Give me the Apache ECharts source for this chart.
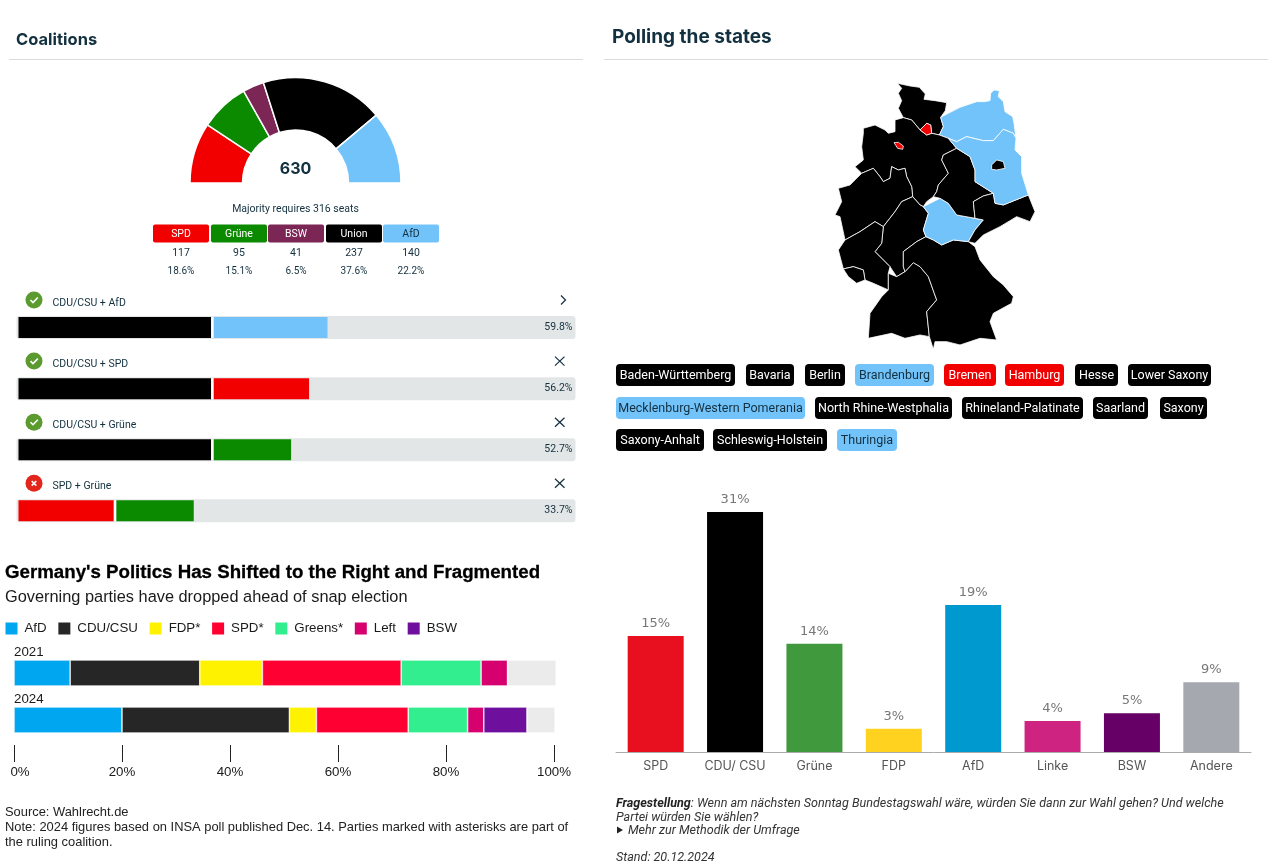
<!DOCTYPE html>
<html><head><meta charset="utf-8">
<style>html,body{margin:0;padding:0;background:#fff}#c{width:1280px;height:868px}</style>
<script src="https://cdn.jsdelivr.net/npm/echarts@6/dist/echarts.min.js"></script>
</head><body><div id="c"></div>
<script>
// ---------- DATA ----------
const seatParties = ['SPD','Grüne','BSW','Union','AfD'];
const seatValues = [117,95,41,237,140];
const seatShares = ['18.6%','15.1%','6.5%','37.6%','22.2%'];
const seatColors = ['#f20000','#0b8a00','#7b2655','#000000','#73c3fb'];

const coalitionNames = ['CDU/CSU + AfD','CDU/CSU + SPD','CDU/CSU + Grüne','SPD + Grüne'];
const coalitionFirst = [37.6,37.6,37.6,18.6];
const coalitionSecond = [22.2,18.6,15.1,15.1];
const coalitionTotals = [59.8,56.2,52.7,33.7];
const coalitionFirstColors = ['#000000','#000000','#000000','#f20000'];
const coalitionSecondColors = ['#73c3fb','#f20000','#0b8a00','#0b8a00'];
const coalitionOk = [true,true,true,false];
const coalitionScaleMax = 108.6;

const bbYears = ['2021','2024'];
const bbAfD = [10.4,20];
const bbCDU = [24,31];
const bbFDP = [11.6,5];
const bbSPD = [25.7,17];
const bbGreens = [14.8,11];
const bbLeft = [4.9,3];
const bbBSW = [0,8];
const bbOther = [9,5.2];

const pollParties = ['SPD','CDU/ CSU','Grüne','FDP','AfD','Linke','BSW','Andere'];
const pollValues = [15,31,14,3,19,4,5,9];
const pollColors = ['#e8101e','#000000','#409a3d','#ffd21f','#0099cf','#cf2382','#660066','#a5a8af'];

const stateNames = ['Baden-Württemberg','Bavaria','Berlin','Brandenburg','Bremen','Hamburg','Hesse','Lower Saxony','Mecklenburg-Western Pomerania','North Rhine-Westphalia','Rhineland-Palatinate','Saarland','Saxony','Saxony-Anhalt','Schleswig-Holstein','Thuringia'];
const stateLeaders = ['black','black','black','blue','red','red','black','black','blue','black','black','black','black','black','black','blue'];
const leaderColors = {black:'#000000',blue:'#73c3fb',red:'#f20000'};

// rough state outlines, in map units
const shapeSH = [[232,40],[270,48],[298,52],[316,72],[312,88],[345,92],[380,98],[376,122],[362,142],[370,170],[358,195],[335,190],[332,165],[320,160],[300,180],[275,150],[250,143],[235,115],[245,92],[235,70],[245,55]];
const shapeHH = [[300,180],[320,160],[332,165],[335,190],[320,195]];
const shapeHB = [[222,218],[235,217],[250,228],[248,238],[233,235]];
const shapeMV = [[362,142],[385,130],[420,112],[470,95],[492,95],[510,92],[512,70],[522,60],[538,62],[535,80],[550,95],[555,125],[578,140],[582,160],[588,205],[580,190],[550,178],[520,212],[490,212],[440,200],[410,215],[385,205],[358,195],[370,170]];
const shapeNI = [[130,175],[165,165],[195,180],[205,190],[225,185],[225,150],[250,143],[275,150],[300,180],[320,195],[335,190],[358,195],[385,205],[410,235],[370,255],[365,270],[385,310],[355,345],[350,365],[340,380],[320,395],[310,410],[300,405],[278,380],[275,350],[260,320],[255,295],[235,300],[215,290],[210,325],[190,335],[180,320],[160,295],[125,310],[105,290],[130,270],[125,230],[130,190]];
const shapeNW = [[125,310],[160,295],[180,320],[190,335],[210,325],[215,290],[235,300],[255,295],[260,320],[275,350],[278,380],[245,395],[225,425],[190,470],[165,455],[120,485],[75,510],[60,440],[45,435],[65,395],[55,355],[90,345]];
const shapeHE = [[278,380],[300,405],[310,410],[325,430],[310,480],[318,500],[290,515],[250,545],[250,590],[255,605],[230,620],[210,590],[165,545],[185,520],[190,470],[225,425],[245,395]];
const shapeRP = [[75,510],[120,485],[165,455],[190,470],[185,520],[165,545],[210,590],[205,610],[205,660],[160,640],[135,630],[130,600],[100,590],[70,597],[55,540]];
const shapeSL = [[70,597],[100,590],[130,600],[135,630],[110,640],[85,620]];
const shapeBW = [[255,605],[280,578],[300,590],[325,620],[350,690],[320,725],[328,800],[300,795],[255,805],[215,790],[145,805],[150,730],[185,680],[205,660],[205,610],[230,620]];
const shapeBY = [[318,500],[340,510],[365,525],[400,510],[445,515],[465,530],[480,570],[520,620],[550,645],[580,680],[575,700],[520,730],[510,755],[530,810],[480,805],[420,825],[380,815],[345,815],[340,838],[328,800],[320,725],[350,690],[325,620],[300,590],[280,578],[255,605],[250,590],[250,545],[290,515]];
const shapeTH = [[310,410],[360,385],[385,400],[410,435],[465,445],[490,450],[465,480],[445,515],[400,510],[365,525],[340,510],[318,500],[310,480],[325,430]];
const shapeST = [[410,235],[450,260],[465,300],[465,335],[520,370],[490,378],[460,395],[465,445],[410,435],[385,400],[360,385],[340,380],[350,365],[355,345],[385,310],[365,270],[370,255]];
const shapeSN = [[460,395],[490,378],[520,370],[525,400],[550,405],[625,375],[645,425],[630,455],[590,440],[540,470],[490,495],[465,520],[445,515],[465,480],[490,450],[465,445]];
const shapeBB = [[410,215],[440,200],[490,212],[520,212],[550,178],[580,190],[588,205],[585,240],[605,260],[605,310],[625,375],[550,405],[525,400],[520,370],[465,335],[465,300],[450,260],[410,235],[385,205]];
const shapeBE = [[515,285],[530,270],[550,275],[555,295],[530,300],[515,298]];
const stateShapes = {'Schleswig-Holstein':shapeSH,'Mecklenburg-Western Pomerania':shapeMV,'Lower Saxony':shapeNI,'North Rhine-Westphalia':shapeNW,'Hesse':shapeHE,'Rhineland-Palatinate':shapeRP,'Saarland':shapeSL,'Baden-Württemberg':shapeBW,'Bavaria':shapeBY,'Thuringia':shapeTH,'Saxony-Anhalt':shapeST,'Saxony':shapeSN,'Brandenburg':shapeBB,'Berlin':shapeBE,'Hamburg':shapeHH,'Bremen':shapeHB};

// ---------- LAYOUT ----------
const INTER = 'Inter, "Liberation Sans", sans-serif';
const SANS = 'Roboto, "Liberation Sans", sans-serif';
const ARIAL = '"Liberation Sans", Arial, sans-serif';
const NAVY = '#12303f';
const chipBoxes = [[616,364,119],[746,364,48],[805,364,40],[855,364,79],[944,364,52],[1005,364,59],[1075,364,43],[1128,364,83],[616,397,189],[815,397,137],[962,397,121],[1093,397,55],[1160,397,47],[616,429,88],[713,429,114],[837,429,60]];
const seatCols = [153,211,268,326,383];
const g = [];
function T(x,y,text,font,fill,align,extra){
  g.push({type:'text',x:x,y:y,silent:true,z:20,style:Object.assign({text:text,font:font,fill:fill,align:align||'left',verticalAlign:'middle'},extra||{})});
}
function R(x,y,w,h,fill,r){
  g.push({type:'rect',silent:true,z:19,shape:{x:x,y:y,width:w,height:h,r:r||0},style:{fill:fill}});
}
function P(pts,stroke,w){
  g.push({type:'polyline',silent:true,z:20,shape:{points:pts},style:{stroke:stroke,lineWidth:w,fill:null}});
}
T(16,40,'Coalitions','bold 16.5px '+INTER,NAVY);
R(9,59,574,1,'#d9dcde');
T(612,37,'Polling the states','bold 19px '+INTER,NAVY);
R(604,59,664,1,'#d9dcde');
T(295.5,169.5,'630','bold 16px '+INTER,NAVY,'center');
T(295.5,209.5,'Majority requires 316 seats','10.5px '+SANS,NAVY,'center');
seatParties.forEach((p,i)=>{
  const x=seatCols[i];
  R(x,224.5,56,18,seatColors[i],2);
  T(x+28,234.5,p,'10.5px '+SANS,p==='AfD'?NAVY:'#ffffff','center');
  T(x+28,253.5,String(seatValues[i]),'10.5px '+SANS,NAVY,'center');
  T(x+28,271.5,seatShares[i],'10px '+SANS,NAVY,'center');
});
coalitionNames.forEach((n,i)=>{
  const y=300+i*61.1;
  g.push({type:'circle',silent:true,z:19,shape:{cx:34,cy:y,r:8.5},style:{fill:coalitionOk[i]?'#5b9a2e':'#e3261c'}});
  if(coalitionOk[i]) P([[30.5,y],[33,y+2.5],[37.8,y-2.5]],'#fff',1.6);
  else { P([[31.7,y-2.3],[36.3,y+2.3]],'#fff',1.6); P([[36.3,y-2.3],[31.7,y+2.3]],'#fff',1.6); }
  if(i===0) P([[561,y-4.5],[565.5,y],[561,y+4.5]],NAVY,1.2);
  else { P([[555,y-4.5],[564.5,y+4.5]],NAVY,1.2); P([[564.5,y-4.5],[555,y+4.5]],NAVY,1.2); }
});
T(5,573,"Germany's Politics Has Shifted to the Right and Fragmented",'bold 18.7px '+ARIAL,'#000','left',{stroke:'#000',lineWidth:0.3});
T(5,597.5,'Governing parties have dropped ahead of snap election','16.35px '+ARIAL,'#1a1a1a');
T(5,812.5,'Source: Wahlrecht.de','12.9px '+ARIAL,'#222');
T(5,827.5,'Note: 2024 figures based on INSA poll published Dec. 14. Parties marked with asterisks are part of','12.9px '+ARIAL,'#222');
T(5,842.5,'the ruling coalition.','12.9px '+ARIAL,'#222');
stateNames.forEach((s,i)=>{
  const b=chipBoxes[i], c=leaderColors[stateLeaders[i]];
  R(b[0],b[1],b[2],22,c,4);
  T(b[0]+b[2]/2,b[1]+11.5,s,'12.5px '+SANS,stateLeaders[i]==='blue'?NAVY:'#ffffff','center');
});
T(616,803.5,'{b|Fragestellung}{i|: Wenn am nächsten Sonntag Bundestagswahl wäre, würden Sie dann zur Wahl gehen? Und welche}','12.55px '+SANS,'#333','left',
  {rich:{b:{font:'italic bold 12.55px '+SANS,fill:'#222'},i:{font:'italic 12.55px '+SANS,fill:'#333'}}});
T(616,817.5,'Partei würden Sie wählen?','italic 12.55px '+SANS,'#333');
g.push({type:'polygon',silent:true,z:20,shape:{points:[[617,826.5],[623,830],[617,833.5]]},style:{fill:'#222'}});
T(628,830.5,'Mehr zur Methodik der Umfrage','italic 12.55px '+SANS,'#333');
T(616,857.5,'Stand: 20.12.2024','italic 12.55px '+SANS,'#333');

// ---------- MAP ----------
const geo = {type:'FeatureCollection',features:Object.keys(stateShapes).map(n=>({
  type:'Feature',properties:{name:n},
  geometry:{type:'Polygon',coordinates:[stateShapes[n].concat([stateShapes[n][0]]).map(p=>[p[0],-p[1]])]}
}))};
echarts.registerMap('de',geo);

// ---------- SERIES ----------
function bbSeries(name,data,color,extra){
  return Object.assign({name:name,type:'bar',stack:'bb',xAxisIndex:2,yAxisIndex:2,barWidth:26,data:data,clip:false,
    itemStyle:{color:color,borderColor:'#fff',borderWidth:0.6},emphasis:{disabled:true}},extra||{});
}
const option={
  animation:false,
  backgroundColor:'#fff',
  textStyle:{fontFamily:INTER},
  graphic:{elements:g},
  legend:{left:3.5,top:620.5,padding:0,itemWidth:14,itemHeight:14,itemGap:9.7,icon:'rect',
    data:['AfD','CDU/CSU','FDP*','SPD*','Greens*','Left','BSW'],selectedMode:false,
    textStyle:{fontFamily:ARIAL,fontSize:13.3,color:'#1a1a1a',padding:[0,0,0,1]}},
  grid:[
    {left:16.5,width:559,top:297,height:244.4},
    {left:18.5,width:556.5,top:297,height:244.4},
    {left:14,width:540,top:649.5,height:94},
    {left:616,width:635,top:504.3,height:247.7}
  ],
  xAxis:[
    {gridIndex:0,type:'value',min:0,max:coalitionScaleMax,show:false},
    {gridIndex:1,type:'value',min:0,max:coalitionScaleMax,show:false},
    {gridIndex:2,type:'value',min:0,max:100,interval:20,offset:1.5,splitLine:{show:false},axisLine:{show:false},
      axisTick:{show:true,length:17,lineStyle:{color:'#222',width:1}},
      axisLabel:{formatter:v=>v===0?'{z|0%}':v+'%',margin:21,fontFamily:ARIAL,fontSize:13.3,color:'#1a1a1a',showMinLabel:true,showMaxLabel:true,
        rich:{z:{padding:[0,0,0,12],fontFamily:ARIAL,fontSize:13.3,color:'#1a1a1a'}}}},
    {gridIndex:3,type:'category',data:pollParties,axisTick:{show:false},
      axisLine:{lineStyle:{color:'#a9abad',width:1}},
      axisLabel:{margin:8,fontFamily:INTER,fontSize:12.5,color:'#555',interval:0}}
  ],
  yAxis:[
    {gridIndex:0,type:'category',inverse:true,data:coalitionNames,show:false},
    {gridIndex:1,type:'category',inverse:true,data:coalitionNames,show:false},
    {gridIndex:2,type:'category',inverse:true,data:bbYears,show:false},
    {gridIndex:3,type:'value',min:0,max:32,show:false}
  ],
  series:[
    {type:'pie',center:[295.5,183],radius:[53,105.5],startAngle:180,endAngle:360,silent:true,
      label:{show:false},labelLine:{show:false},
      itemStyle:{borderColor:'#fff',borderWidth:1.5},
      data:seatParties.map((p,i)=>({name:p,value:seatValues[i],itemStyle:{color:seatColors[i]}}))},
    {type:'bar',xAxisIndex:0,yAxisIndex:0,barWidth:23,silent:true,
      data:coalitionTotals.map(t=>({value:coalitionScaleMax,total:t})),
      itemStyle:{color:'#e3e6e7',borderRadius:3},
      label:{show:true,position:'insideRight',distance:3,fontSize:10.5,color:NAVY,fontFamily:SANS,
        formatter:p=>coalitionTotals[p.dataIndex].toFixed(1)+'%'}},
    {type:'bar',stack:'c',xAxisIndex:1,yAxisIndex:1,barWidth:21,silent:true,
      data:coalitionFirst.map((v,i)=>({value:v,itemStyle:{color:coalitionFirstColors[i]}})),
      label:{show:true,position:[34,-19],fontSize:10.5,color:NAVY,fontFamily:SANS,formatter:p=>coalitionNames[p.dataIndex]}},
    {type:'bar',stack:'c',xAxisIndex:1,yAxisIndex:1,barWidth:21,silent:true,
      data:coalitionFirst.map(()=>0.5),itemStyle:{color:'#ffffff'}},
    {type:'bar',stack:'c',xAxisIndex:1,yAxisIndex:1,barWidth:21,silent:true,
      data:coalitionSecond.map((v,i)=>({value:v,itemStyle:{color:coalitionSecondColors[i]}}))},
    bbSeries('AfD',bbAfD,'#00a6f0',{label:{show:true,position:[0,-14.5],fontFamily:ARIAL,fontSize:13.3,color:'#1a1a1a',formatter:p=>bbYears[p.dataIndex]}}),
    bbSeries('CDU/CSU',bbCDU,'#262626'),
    bbSeries('FDP*',bbFDP,'#fff200'),
    bbSeries('SPD*',bbSPD,'#ff0033'),
    bbSeries('Greens*',bbGreens,'#33ee8f'),
    bbSeries('Left',bbLeft,'#d6006f'),
    bbSeries('BSW',bbBSW,'#6f0f9e'),
    bbSeries('Other',bbOther,'#ebebeb'),
    {type:'bar',xAxisIndex:3,yAxisIndex:3,barWidth:56,silent:true,
      data:pollValues.map((v,i)=>({value:v,itemStyle:{color:pollColors[i]}})),
      label:{show:true,position:'top',distance:6,formatter:'{c}%',fontFamily:'"DejaVu Sans", sans-serif',fontSize:13,color:'#777'}},
    {type:'map',map:'de',aspectScale:1,left:835,top:83.3,width:200,height:266,roam:false,silent:true,showLegendSymbol:false,
      label:{show:false},emphasis:{disabled:true},select:{disabled:true},
      itemStyle:{borderColor:'#ffffff',borderWidth:0.8},
      data:stateNames.map((s,i)=>({name:s,value:1,itemStyle:{areaColor:leaderColors[stateLeaders[i]]}}))}
  ]
};
echarts.init(document.getElementById('c'),null,{renderer:'canvas'}).setOption(option);
</script></body></html>
